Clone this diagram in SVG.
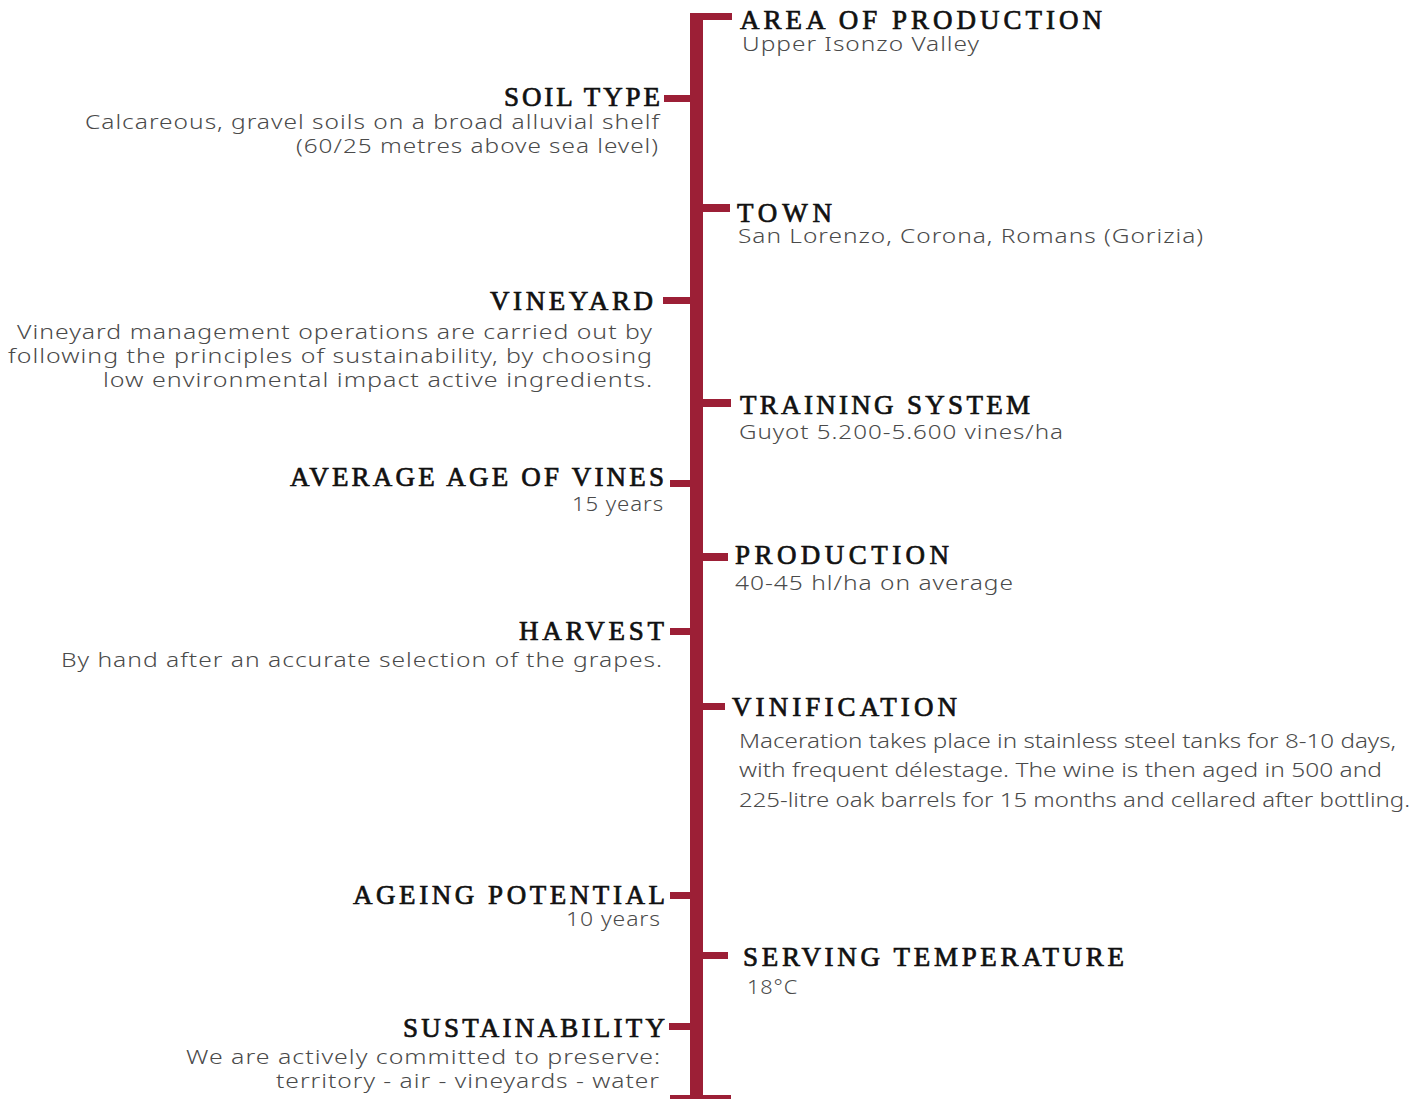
<svg xmlns="http://www.w3.org/2000/svg" width="1426" height="1099" viewBox="0 0 1426 1099">
<style>
.bar{fill:#9c1f36}
.h{font-family:"Liberation Serif","Times New Roman",serif;font-weight:normal;font-size:27px;fill:#111;stroke:#111;stroke-width:0.7px}
.b{font-family:"Noto Sans","Open Sans",sans-serif;font-size:20px;font-weight:300;fill:#4a4a4a;letter-spacing:0.8px}
.v{letter-spacing:0}
.l{text-anchor:end}
</style>
<rect width="1426" height="1099" fill="#fff"/>
<g id="connectors">
<rect class="bar" x="690" y="13" width="13" height="1090"/>
<rect class="bar" x="670" y="1095" width="61" height="7"/>
</g>
<g id="area-of-production">
<rect class="bar" x="690" y="13" width="42" height="7"/>
<text class="h" x="740" y="29" textLength="362" lengthAdjust="spacing">AREA OF PRODUCTION</text>
<text class="b" x="742" y="51" textLength="238" lengthAdjust="spacingAndGlyphs">Upper Isonzo Valley</text>
</g>
<g id="soil-type">
<rect class="bar" x="664" y="95" width="26" height="7"/>
<text class="h l" x="660" y="106" textLength="156" lengthAdjust="spacing">SOIL TYPE</text>
<text class="b l" x="660" y="129" textLength="575" lengthAdjust="spacingAndGlyphs">Calcareous, gravel soils on a broad alluvial shelf</text>
<text class="b l" x="659" y="153" textLength="363" lengthAdjust="spacingAndGlyphs">(60/25 metres above sea level)</text>
</g>
<g id="town">
<rect class="bar" x="703" y="204" width="27" height="8"/>
<text class="h" x="737" y="222" textLength="95" lengthAdjust="spacing">TOWN</text>
<text class="b" x="738" y="243" textLength="466" lengthAdjust="spacingAndGlyphs">San Lorenzo, Corona, Romans (Gorizia)</text>
</g>
<g id="vineyard">
<rect class="bar" x="663" y="297" width="27" height="7"/>
<text class="h l" x="653" y="310" textLength="163" lengthAdjust="spacing">VINEYARD</text>
<text class="b l" x="653" y="339" textLength="636" lengthAdjust="spacingAndGlyphs">Vineyard management operations are carried out by</text>
<text class="b l" x="653" y="363" textLength="645" lengthAdjust="spacingAndGlyphs">following the principles of sustainability, by choosing</text>
<text class="b l" x="653" y="387" textLength="550" lengthAdjust="spacingAndGlyphs">low environmental impact active ingredients.</text>
</g>
<g id="training-system">
<rect class="bar" x="703" y="399" width="28" height="8"/>
<text class="h" x="740" y="414" textLength="290" lengthAdjust="spacing">TRAINING SYSTEM</text>
<text class="b" x="739" y="439" textLength="325" lengthAdjust="spacingAndGlyphs">Guyot 5.200-5.600 vines/ha</text>
</g>
<g id="average-age-of-vines">
<rect class="bar" x="670" y="480" width="20" height="7"/>
<text class="h l" x="664" y="486" textLength="374" lengthAdjust="spacing">AVERAGE AGE OF VINES</text>
<text class="b l" x="664" y="511" textLength="92" lengthAdjust="spacingAndGlyphs">15 years</text>
</g>
<g id="production">
<rect class="bar" x="703" y="553" width="25" height="8"/>
<text class="h" x="735" y="564" textLength="214" lengthAdjust="spacing">PRODUCTION</text>
<text class="b" x="735" y="590" textLength="279" lengthAdjust="spacingAndGlyphs">40-45 hl/ha on average</text>
</g>
<g id="harvest">
<rect class="bar" x="670" y="628" width="20" height="7"/>
<text class="h l" x="664" y="640" textLength="145" lengthAdjust="spacing">HARVEST</text>
<text class="b l" x="663" y="667" textLength="602" lengthAdjust="spacingAndGlyphs">By hand after an accurate selection of the grapes.</text>
</g>
<g id="vinification">
<rect class="bar" x="703" y="703" width="22" height="7"/>
<text class="h" x="732" y="716" textLength="225" lengthAdjust="spacing">VINIFICATION</text>
<text class="b v" x="739" y="748" textLength="657" lengthAdjust="spacingAndGlyphs">Maceration takes place in stainless steel tanks for 8-10 days,</text>
<text class="b v" x="739" y="777" textLength="643" lengthAdjust="spacingAndGlyphs">with frequent délestage. The wine is then aged in 500 and</text>
<text class="b v" x="739" y="807" textLength="671" lengthAdjust="spacingAndGlyphs">225-litre oak barrels for 15 months and cellared after bottling.</text>
</g>
<g id="ageing-potential">
<rect class="bar" x="670" y="892" width="20" height="7"/>
<text class="h l" x="665" y="904" textLength="312" lengthAdjust="spacing">AGEING POTENTIAL</text>
<text class="b l" x="661" y="926" textLength="95" lengthAdjust="spacingAndGlyphs">10 years</text>
</g>
<g id="serving-temperature">
<rect class="bar" x="703" y="952" width="25" height="7"/>
<text class="h" x="743" y="966" textLength="381" lengthAdjust="spacing">SERVING TEMPERATURE</text>
<text class="b" x="747" y="994" textLength="51" lengthAdjust="spacingAndGlyphs">18°C</text>
</g>
<g id="sustainability">
<rect class="bar" x="669" y="1023" width="21" height="7"/>
<text class="h l" x="665" y="1037" textLength="262" lengthAdjust="spacing">SUSTAINABILITY</text>
<text class="b l" x="661" y="1064" textLength="475" lengthAdjust="spacingAndGlyphs">We are actively committed to preserve:</text>
<text class="b l" x="660" y="1088" textLength="384" lengthAdjust="spacingAndGlyphs">territory - air - vineyards - water</text>
</g>
</svg>
